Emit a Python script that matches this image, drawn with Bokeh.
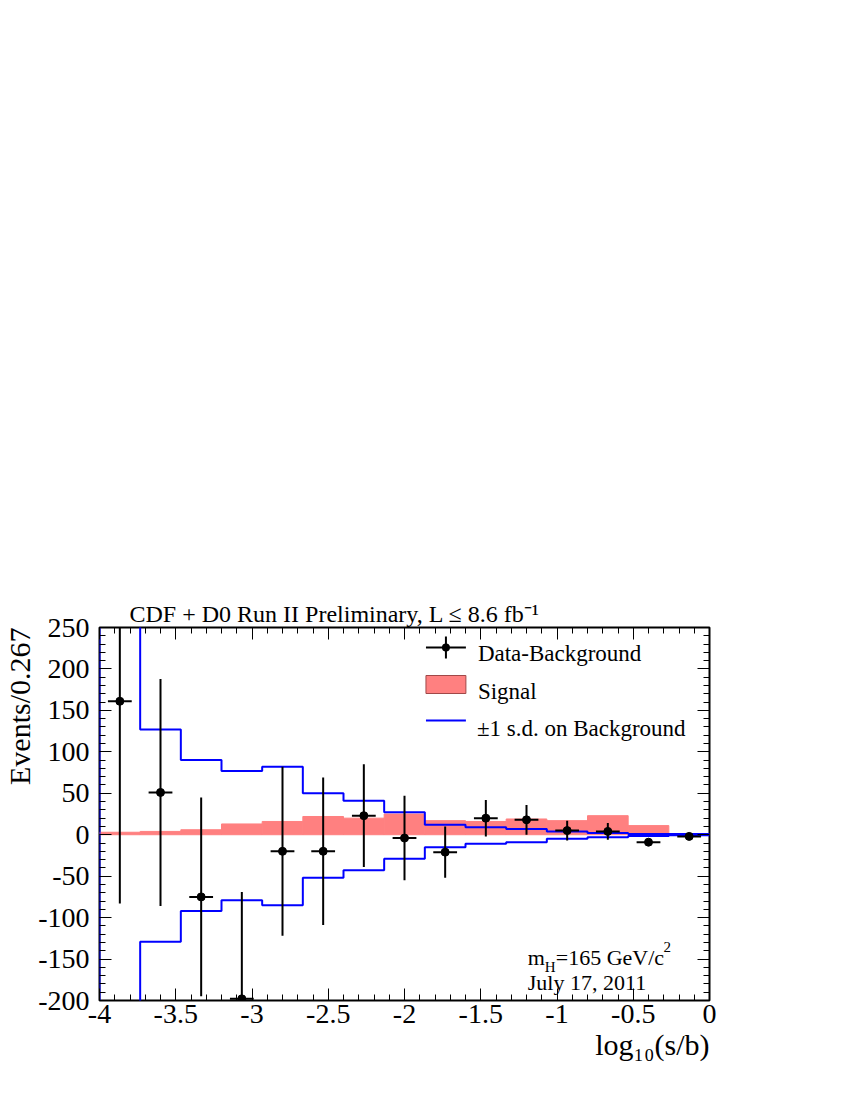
import numpy as np
from bokeh.plotting import figure
from bokeh.models import (Range1d, FixedTicker, LinearAxis, CustomJSTickFormatter,
                          Label, Arrow, BoxAnnotation, Title)
from bokeh.embed import file_html
from bokeh.resources import INLINE

# ---------------- data ----------------
bin_edges = [-4.0, -3.7333, -3.4667, -3.2, -2.9333, -2.6667, -2.4, -2.1333,
             -1.8667, -1.6, -1.3333, -1.0667, -0.8, -0.5333, -0.2667, 0.0]
data_minus_bkg = [161, 51, -75, -198, -20, -20, 23, -4, -21, 20, 18, 5, 4, -9, -2]
data_err = [244, 137, 120, 129, 102, 89, 62, 51, 31, 22, 18, 12, 10, 4, 2]
x_half_err = 0.078
signal = [3, 4, 6, 13, 16, 22, 20, 25, 17, 16, 19, 17, 23, 11, 1]
bkg_up = [300, 127, 90, 77, 82, 50, 41, 27, 12, 9, 7, 4, 2, 1, 1]
bkg_down = [-300, -129, -92, -79, -85, -52, -43, -29, -15, -11, -9, -5, -3, -1.5, -0.5]

x_ticks = [-4, -3.5, -3, -2.5, -2, -1.5, -1, -0.5, 0]
x_tick_labels = ["-4", "-3.5", "-3", "-2.5", "-2", "-1.5", "-1", "-0.5", "0"]
y_ticks = [-200, -150, -100, -50, 0, 50, 100, 150, 200, 250]
y_tick_labels = ["-200", "-150", "-100", "-50", "0", "50", "100", "150", "200", "250"]

legend_labels = ["Data-Background", "Signal", "\u00b11 s.d. on Background"]
title_text = "CDF + D0 Run II Preliminary, L \u2264 8.6 fb\u207b\u00b9"
y_title = "Events/0.267"
x_title = "log\u2081\u2080(s/b)"
mass_text = ["m", "H", "=165 GeV/c", "2"]
date_text = "July 17, 2011"

X0, X1, Y0, Y1 = -4.0, 0.0, -200.0, 250.0

# ---------------- layout ----------------
BL, BR, BT, BB = 98, 125, 627, 84
W, H = BL + 611 + BR, BT + 373 + BB
FONT = "Liberation Serif"

FL, FR, FT, FB = BL, W - BR, BT, H - BB


def dx(px):
    return X0 + (px - FL) * (X1 - X0) / (FR - FL)


def dy(py):
    return Y1 - (py - FT) * (Y1 - Y0) / (FB - FT)


p = figure(width=W, height=H, x_range=Range1d(X0, X1), y_range=Range1d(Y0, Y1),
           output_backend="svg", toolbar_location=None,
           min_border_left=BL, min_border_right=BR, min_border_top=BT, min_border_bottom=BB)
p.grid.visible = False
p.background_fill_color = "white"
p.border_fill_color = "white"
p.outline_line_color = "black"
p.outline_line_width = 2

# ---------------- glyphs ----------------
edges = np.array(bin_edges)
centers = 0.5 * (edges[:-1] + edges[1:])

p.quad(left=edges[:-1], right=edges[1:], bottom=0, top=signal,
       fill_color="#ff8080", line_color="#ff8080", line_width=1)

step_x = [bin_edges[0]] + bin_edges
p.step(step_x, [0] + bkg_up + [bkg_up[-1]], mode="after", line_color="#0000ff", line_width=2)
p.step(step_x, [0] + bkg_down + [bkg_down[-1]], mode="after", line_color="#0000ff", line_width=2)

yv = np.array(data_minus_bkg, dtype=float)
ev = np.array(data_err, dtype=float)
p.segment(x0=centers, x1=centers, y0=yv - ev, y1=yv + ev, line_color="black", line_width=2)
p.segment(x0=centers - x_half_err, x1=centers + x_half_err, y0=yv, y1=yv,
          line_color="black", line_width=2)
p.scatter(centers, yv, size=8, marker="circle", fill_color="black", line_color="black")

# ---------------- axes ----------------
x_minor = [round(v, 2) for v in np.arange(X0, X1 + 1e-9, 0.1)]
y_minor = [float(v) for v in np.arange(Y0, Y1 + 1e-9, 10)]
JS = "const i = tvals.indexOf(tick); return i < 0 ? '' : tlabels[i];"
fmt_x = CustomJSTickFormatter(args=dict(tvals=x_ticks, tlabels=x_tick_labels), code=JS)
fmt_y = CustomJSTickFormatter(args=dict(tvals=y_ticks, tlabels=y_tick_labels), code=JS)
fmt_none = CustomJSTickFormatter(code="return '';")

xt = FixedTicker(ticks=x_ticks, minor_ticks=x_minor)
yt = FixedTicker(ticks=y_ticks, minor_ticks=y_minor)

bottom_ax = p.xaxis[0]
left_ax = p.yaxis[0]
bottom_ax.ticker = xt
left_ax.ticker = yt
bottom_ax.formatter = fmt_x
left_ax.formatter = fmt_y

top_ax = LinearAxis(ticker=xt, formatter=fmt_none)
right_ax = LinearAxis(ticker=yt, formatter=fmt_none)
p.add_layout(top_ax, "above")
p.add_layout(right_ax, "right")

for ax in [bottom_ax, left_ax, top_ax, right_ax]:
    ax.axis_line_color = None
    ax.major_tick_in = 12
    ax.major_tick_out = 0
    ax.minor_tick_in = 6
    ax.minor_tick_out = 0
    ax.major_tick_line_color = "black"
    ax.minor_tick_line_color = "black"
    ax.major_tick_line_width = 1
    ax.minor_tick_line_width = 1
    ax.major_label_text_font = FONT
    ax.major_label_text_font_size = "28px"
    ax.major_label_text_color = "black"

bottom_ax.major_label_standoff = 4
left_ax.major_label_standoff = 10
top_ax.major_label_standoff = 0
right_ax.major_label_standoff = 0

# titles outside the frame
p.title.text = title_text
p.title.align = "left"
p.title.offset = 30
p.title.standoff = 2
p.title.text_font = FONT
p.title.text_font_size = "24px"
p.title.text_font_style = "normal"
p.title.text_color = "black"

p.add_layout(Title(text=y_title, align="right", standoff=0, text_font=FONT,
                   text_font_size="30px", text_font_style="normal", text_color="black"), "left")
p.add_layout(Title(text=x_title, align="right", standoff=0, text_font=FONT,
                   text_font_size="30px", text_font_style="normal", text_color="black"), "below")


def lab(text, px, py, size, align="left", baseline="alphabetic"):
    p.add_layout(Label(x=dx(px), y=dy(py), text=text, text_font=FONT,
                       text_font_size=f"{size}px", text_color="black",
                       text_align=align, text_baseline=baseline))


# mass / date annotation
lab(mass_text[0], 527, 957, 22)
lab(mass_text[1], 544, 966, 15)
lab(mass_text[2], 555, 957, 22)
lab(mass_text[3], 663, 946, 15)
lab(date_text, 527, 982, 22)

# ---------------- legend ----------------
KX0, KX1, KXC = 425, 465, 445
p.add_layout(Arrow(x_start=dx(KX0), y_start=dy(647), x_end=dx(KX1), y_end=dy(647),
                   end=None, line_color="black", line_width=2))
p.add_layout(Arrow(x_start=dx(KXC), y_start=dy(636), x_end=dx(KXC), y_end=dy(658),
                   end=None, line_color="black", line_width=2))
p.add_layout(BoxAnnotation(left=dx(KXC - 4), right=dx(KXC + 4), top=dy(643), bottom=dy(651),
                           fill_color="black", fill_alpha=1, line_color=None, border_radius=4))
p.add_layout(BoxAnnotation(left=dx(KX0), right=dx(KX1), top=dy(675), bottom=dy(693),
                           fill_color="#ff8080", fill_alpha=1, line_color="#a04848",
                           line_alpha=1, line_width=1))
p.add_layout(Arrow(x_start=dx(KX0), y_start=dy(720), x_end=dx(KX1), y_end=dy(720),
                   end=None, line_color="#0000ff", line_width=2))
lab(legend_labels[0], 477, 653, 23)
lab(legend_labels[1], 477, 691, 23)
lab(legend_labels[2], 476, 728, 23)

open("out.html", "w").write(file_html(p, INLINE))
